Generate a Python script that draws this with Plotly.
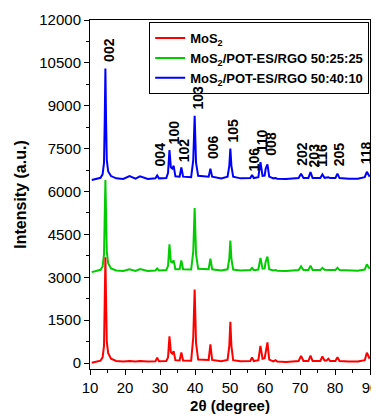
import plotly.graph_objects as go

two_theta = [10.5, 12.0, 13.0, 13.6, 14.0, 14.2, 14.4, 14.6, 14.8, 15.2,
             16.0, 17.5, 19.5, 21.3, 23.0, 24.3, 26.5, 28.7, 29.2, 29.7,
             31.8, 32.3, 32.7, 33.1, 33.5, 33.9, 34.4, 35.6, 36.1, 36.6,
             38.9, 39.5, 39.9, 40.3, 40.9, 43.9, 44.4, 44.9, 47.5, 49.3,
             49.8, 50.1, 50.4, 50.9, 53.0, 55.8, 56.3, 56.8, 58.1, 58.7,
             59.3, 59.9, 60.2, 60.7, 61.2, 62.4, 63.0, 63.5, 66.0, 69.6,
             70.3, 71.0, 72.4, 73.0, 73.6, 75.8, 76.4, 77.0, 77.6, 78.1,
             78.6, 80.1, 80.7, 81.3, 84.0, 86.5, 88.5, 89.1, 89.9]

blue_50_40_10 = [6400, 6440, 6480, 6600, 7000, 8400, 10300, 8400, 7100, 6700,
                 6540, 6460, 6440, 6540, 6450, 6530, 6440, 6460, 6560, 6460,
                 6470, 6650, 7450, 6850, 6800, 6900, 6530, 6520, 6840, 6520,
                 6500, 7100, 8650, 7000, 6550, 6520, 6800, 6520, 6460, 6520,
                 6900, 7500, 6900, 6520, 6460, 6470, 6580, 6470, 6500, 7030,
                 6550, 6560, 6800, 6950, 6520, 6460, 6470, 6450, 6440, 6470,
                 6620, 6470, 6470, 6680, 6470, 6470, 6600, 6480, 6480, 6500,
                 6470, 6470, 6620, 6470, 6450, 6450, 6500, 6690, 6520]

green_50_25_25 = [3180, 3220, 3260, 3380, 3800, 5100, 6400, 5100, 3900, 3480,
                  3310, 3240, 3220, 3280, 3220, 3290, 3220, 3240, 3310, 3240,
                  3250, 3400, 4150, 3550, 3520, 3590, 3280, 3280, 3590, 3280,
                  3270, 3900, 5420, 3800, 3300, 3280, 3650, 3280, 3240, 3280,
                  3650, 4280, 3650, 3270, 3240, 3250, 3330, 3250, 3270, 3680,
                  3300, 3310, 3550, 3720, 3280, 3240, 3250, 3230, 3220, 3250,
                  3380, 3250, 3250, 3410, 3250, 3250, 3330, 3260, 3250, 3260,
                  3250, 3250, 3330, 3250, 3230, 3230, 3270, 3450, 3300]

red_mos2 = [10, 40, 80, 200, 600, 2100, 3700, 2100, 750, 340,
            150, 70, 50, 70, 50, 70, 50, 60, 190, 60,
            70, 200, 930, 380, 330, 410, 100, 90, 370, 90,
            80, 900, 2570, 700, 120, 110, 650, 110, 60, 110,
            600, 1440, 600, 100, 60, 70, 200, 70, 100, 600,
            150, 170, 450, 720, 120, 60, 100, 50, 40, 70,
            250, 70, 70, 260, 70, 70, 230, 90, 90, 150,
            70, 70, 200, 70, 50, 50, 100, 360, 150]

peak_labels = ["002", "004", "100", "102", "103", "006", "105", "106",
               "110", "008", "202", "203", "116", "205", "118"]
label_two_theta = [15.6, 30.1, 34.1, 36.9, 40.9, 45.1, 50.9, 56.7,
                   59.0, 61.6, 70.5, 73.9, 76.3, 81.2, 88.8]
label_intensity = [10450, 6820, 7590, 6960, 8800, 7060, 7650, 6650,
                   7300, 7170, 6820, 6760, 6780, 6820, 6890]

series_names = ["MoS<sub>2</sub>",
                "MoS<sub>2</sub>/POT-ES/RGO 50:25:25",
                "MoS<sub>2</sub>/POT-ES/RGO 50:40:10"]

FONT = "Liberation Sans, Arial, sans-serif"

fig = go.Figure()
# draw blue first, red last (on top); legend order red, green, blue
fig.add_trace(go.Scatter(x=two_theta, y=blue_50_40_10, mode="lines",
                         name=series_names[2], legendrank=3,
                         line=dict(color="#0000ff", width=2)))
fig.add_trace(go.Scatter(x=two_theta, y=green_50_25_25, mode="lines",
                         name=series_names[1], legendrank=2,
                         line=dict(color="#00cc00", width=2)))
fig.add_trace(go.Scatter(x=two_theta, y=red_mos2, mode="lines",
                         name=series_names[0], legendrank=1,
                         line=dict(color="#ff0000", width=2)))

for lab, lx, ly in zip(peak_labels, label_two_theta, label_intensity):
    fig.add_annotation(x=lx, y=ly, xref="x", yref="y", text="<b>%s</b>" % lab,
                       showarrow=False, textangle=-90, xanchor="center",
                       yanchor="bottom", font=dict(family=FONT, size=14, color="black"))

# the page body adds an 8px margin; the figure is sized so the plot area
# lands at the same place as in the reference
fig.update_layout(
    width=371, height=408,
    margin=dict(l=82, r=9, t=12, b=47, autoexpand=False),
    paper_bgcolor="white", plot_bgcolor="white",
    font=dict(family=FONT, color="black"),
    showlegend=True,
    legend=dict(x=0.997, y=0.994, xanchor="right", yanchor="top",
                bgcolor="white", bordercolor="black", borderwidth=1,
                font=dict(family=FONT, size=13, color="black", weight="bold"),
                tracegroupgap=0, itemwidth=30),
)
fig.update_xaxes(range=[10, 90], tick0=10, dtick=10, ticks="outside", ticklen=5,
                 tickwidth=1, tickcolor="black", showline=True, linecolor="black",
                 linewidth=1, mirror=True, showgrid=False, zeroline=False,
                 automargin=False,
                 tickfont=dict(family=FONT, size=15),
                 minor=dict(dtick=5, ticks="outside", ticklen=3, tickcolor="black"),
                 title=dict(text="<b>2θ (degree)</b>", font=dict(family=FONT, size=15),
                            standoff=5))
fig.update_yaxes(range=[-209, 12000], tick0=0, dtick=1500, tickformat="d",
                 ticks="outside", ticklen=5, tickwidth=1, tickcolor="black",
                 showline=True, linecolor="black", linewidth=1, mirror=True,
                 showgrid=False, zeroline=False, automargin=False,
                 tickfont=dict(family=FONT, size=15),
                 minor=dict(dtick=750, ticks="outside", ticklen=3, tickcolor="black"),
                 title=dict(text="<b>Intensity (a.u.)</b>", font=dict(family=FONT, size=16),
                            standoff=8))

fig.write_html("out.html")
